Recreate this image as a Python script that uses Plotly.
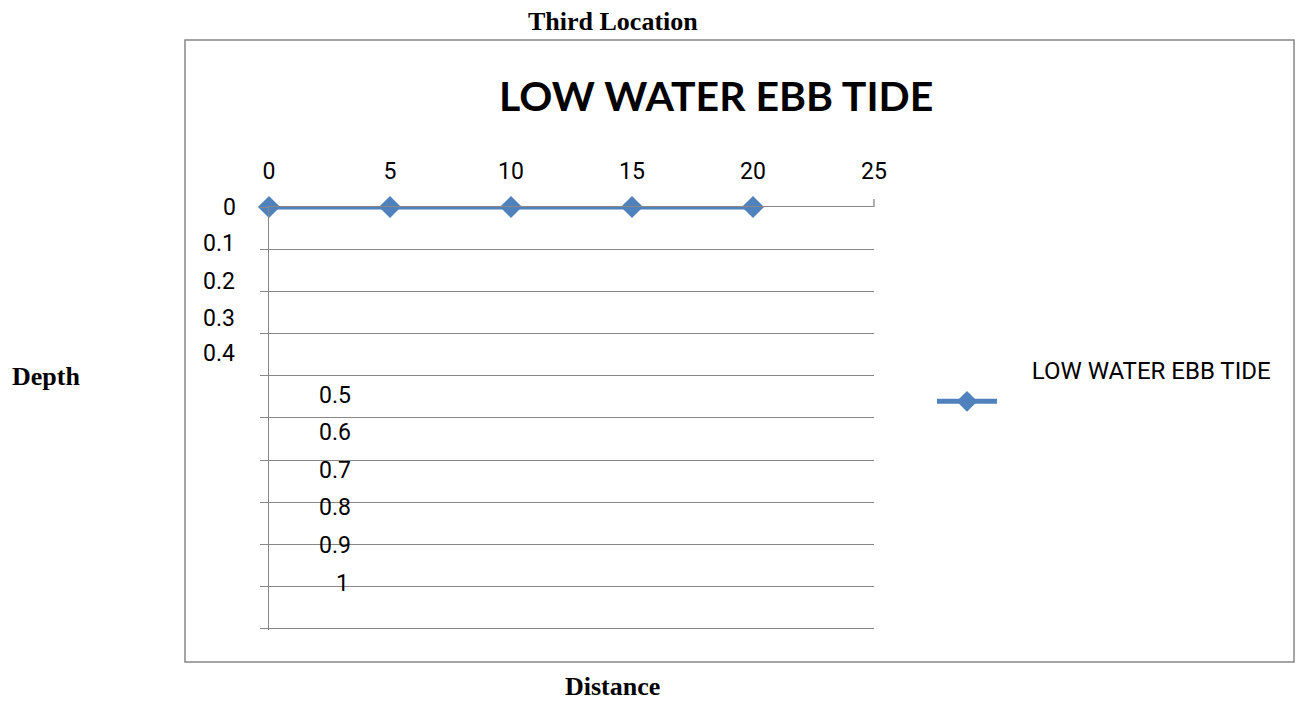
import plotly.graph_objects as go

# ---- data ----
distance = [0, 5, 10, 15, 20]
depth = [0, 0, 0, 0, 0]
series_name = "LOW WATER EBB TIDE"
x_ticks = [0, 5, 10, 15, 20, 25]
y_ticks = [0, 0.1, 0.2, 0.3, 0.4, 0.5, 0.6, 0.7, 0.8, 0.9, 1]
y_tick_labels = ["0", "0.1", "0.2", "0.3", "0.4", "0.5", "0.6", "0.7", "0.8", "0.9", "1"]

# ---- layout geometry (pixels) ----
W, H = 1304, 702
PL, PR, PT, PB = 269, 874, 207, 630


def px_x(p):
    return (p - PL) / (PR - PL)


def px_y(p):
    return (PB - p) / (PB - PT)


# quirky y tick label placement (right edge x, centre y) as in the original
ylab_right = [238, 237, 237, 237, 237, 353, 353, 353, 353, 353, 351]
ylab_y = [207, 243, 281, 318, 353, 395, 432, 470, 507, 545, 583]

BLUE = "#4F81BD"
GREY = "#878787"
TICKFONT = dict(family="Roboto", size=23, color="#000000")
NBSP = "&nbsp;" * 5

fig = go.Figure()
fig.add_trace(go.Scatter(
    x=distance, y=depth, mode="lines+markers",
    name=NBSP + series_name + "<br> ",
    line=dict(color=BLUE, width=5),
    marker=dict(symbol="diamond", size=17, color=BLUE),
    cliponaxis=False,
))

annotations = []
for lab, xr, yc in zip(y_tick_labels, ylab_right, ylab_y):
    annotations.append(dict(
        text=lab, x=px_x(xr), y=px_y(yc), xref="paper", yref="paper",
        xanchor="right", yanchor="middle", showarrow=False, font=TICKFONT,
    ))

annotations += [
    dict(text="<b>LOW WATER EBB TIDE</b>", x=px_x(716), y=px_y(96),
         xref="paper", yref="paper", xanchor="center", yanchor="middle",
         showarrow=False, font=dict(family="Lato", size=41, color="#000000")),
    dict(text="<b>Third Location</b>", x=px_x(613), y=px_y(21),
         xref="paper", yref="paper", xanchor="center", yanchor="middle",
         showarrow=False, font=dict(family="Liberation Serif", size=26, color="#000000")),
    dict(text="<b>Depth</b>", x=px_x(46), y=px_y(376),
         xref="paper", yref="paper", xanchor="center", yanchor="middle",
         showarrow=False, font=dict(family="Liberation Serif", size=26, color="#000000")),
    dict(text="<b>Distance</b>", x=px_x(612), y=px_y(686),
         xref="paper", yref="paper", xanchor="center", yanchor="middle",
         showarrow=False, font=dict(family="Liberation Serif", size=26, color="#000000")),
]

shapes = [
    # chart frame
    dict(type="rect", xref="paper", yref="paper",
         x0=px_x(185), x1=px_x(1294), y0=px_y(662), y1=px_y(40),
         line=dict(color=GREY, width=1.5), fillcolor="rgba(0,0,0,0)", layer="below"),
    # end tick on top axis
    dict(type="line", xref="paper", yref="paper",
         x0=1, x1=1, y0=1, y1=px_y(199), line=dict(color=GREY, width=1.3)),
]

fig.update_layout(
    width=W, height=H, autosize=False,
    margin=dict(l=PL, r=W - PR, t=PT, b=H - PB, pad=0),
    paper_bgcolor="white", plot_bgcolor="white",
    showlegend=True,
    legend=dict(x=px_x(932), y=px_y(386), xanchor="left", yanchor="middle",
                font=dict(family="Roboto", size=24, color="#000000"),
                valign="bottom", itemwidth=60, bgcolor="rgba(0,0,0,0)"),
    xaxis=dict(range=[0, 25], side="top", tickvals=x_ticks,
               showgrid=False, zeroline=False, showline=True,
               linecolor=GREY, linewidth=1.3, ticks="",
               tickfont=TICKFONT, ticklabelstandoff=18),
    yaxis=dict(range=[1.003, 0], tickvals=y_ticks, showticklabels=False,
               showgrid=True, gridcolor=GREY, gridwidth=1.3,
               zeroline=False, showline=True, linecolor=GREY, linewidth=1.3,
               ticks="outside", ticklen=8, tickcolor=GREY, tickwidth=1.3),
    annotations=annotations, shapes=shapes,
)

fig.write_html("out.html", config={"displayModeBar": False})
